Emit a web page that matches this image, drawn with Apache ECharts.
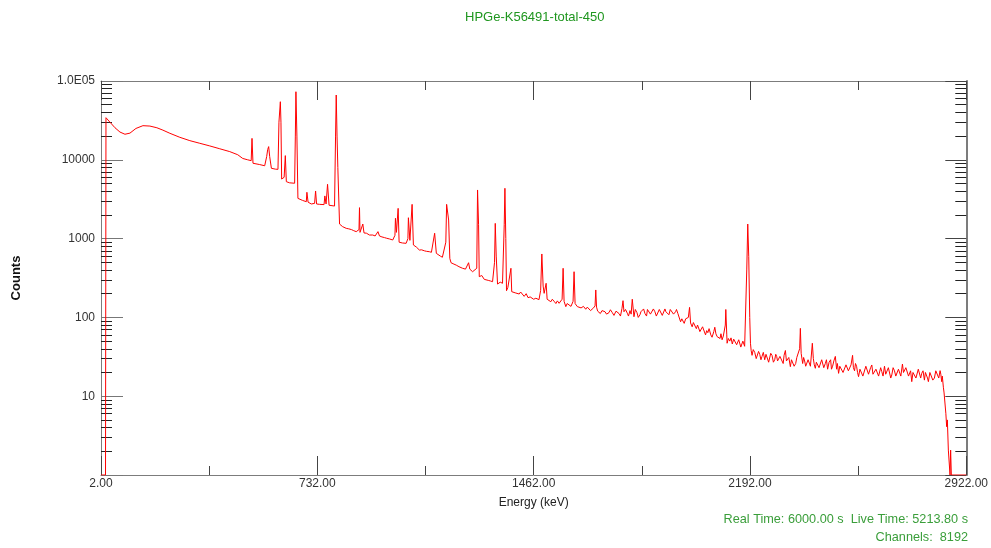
<!DOCTYPE html>
<html>
<head>
<meta charset="utf-8">
<title>HPGe-K56491-total-450</title>
<script src="https://cdn.jsdelivr.net/npm/echarts@6/dist/echarts.min.js"></script>
<style>
html, body { margin: 0; padding: 0; background: #ffffff; }
#spectrum { width: 991px; height: 548px; }
</style>
</head>
<body>
<div id="spectrum"></div>
<script>
// spectrum as [energy keV, counts], split in three ranges
const spectrumLow = [
  [2, 1], [17.2, 1], [18.8, 34200], [32.3, 30000], [49.2, 25500], [66, 22500], [82.8, 21100], [99.7, 21800], [119.9, 25000], [143.5, 27100],
  [167, 26800], [190.6, 25500], [210.8, 23800], [234.4, 21700], [268, 19300], [301.8, 17500], [335.4, 16200], [369.1, 15000], [402.8, 13800], [436.5, 12700],
  [463.4, 11600], [480.3, 10400], [497, 10000], [508.8, 9750], [511.6, 18700], [514.9, 9040], [537.5, 8700], [554.4, 8400], [561.1, 11000], [564.5, 13500],
  [567.8, 14700], [571.2, 11000], [577, 7800], [591.4, 7600], [599.2, 7570], [602.5, 30000], [607.2, 54600], [609.3, 30000], [611.6, 5700], [620, 6000],
  [624, 11300], [627.4, 5280], [638.6, 5100], [655.4, 5040], [657.8, 20000], [659.8, 73100], [663.1, 20000], [666.5, 3240], [682.3, 3050], [694.8, 2940],
  [696.8, 3870], [700.8, 2900], [711.6, 2750], [722.8, 2800], [726.1, 4020], [729.5, 2750], [739.6, 2720], [754.7, 2700], [757.4, 3480], [761.5, 2750],
  [766.5, 4890], [771.6, 2650], [790.1, 2590], [793.5, 20000], [795.8, 66400], [798.5, 20000]
]
const spectrumMid = [
  [801.2, 8020], [804.6, 3000], [807, 1530], [812, 1450], [817.1, 1420], [823, 1380], [829.5, 1350], [838, 1330], [847.4, 1300], [855, 1260],
  [863.2, 1225], [872.6, 1300], [874.3, 2470], [876, 1200], [880, 1190], [885.5, 1530], [889.5, 1180], [897.9, 1170], [903, 1140], [908, 1110],
  [914, 1150], [919.1, 1110], [927, 1080], [936.6, 1225], [941.7, 1080], [950, 1050], [958.5, 1030], [966, 1010], [975.4, 990], [986.5, 960],
  [993.9, 1100], [995.6, 1810], [999, 1200], [1004.7, 2420], [1008, 900], [1013, 905], [1019.1, 880], [1025, 860], [1031.6, 871], [1037.7, 1000],
  [1039.3, 1840], [1044.4, 950], [1051.8, 2720], [1056.2, 830], [1061, 800], [1066.3, 780], [1071, 760], [1076.4, 716], [1084, 720], [1093.2, 700],
  [1100, 690], [1110.1, 682], [1117, 670], [1123.5, 700], [1127.9, 1170], [1133.6, 650], [1140, 625], [1147.1, 600], [1154, 580], [1160.6, 562],
  [1165.6, 900], [1168.3, 2720], [1175.1, 1720], [1179.1, 560], [1183.2, 494], [1190, 480], [1201, 460], [1210, 440], [1222.2, 420], [1232, 410],
  [1242.4, 494], [1246.5, 410], [1250, 395], [1255.9, 380], [1262, 370], [1270, 420], [1272.7, 4140], [1276.1, 1500], [1278.5, 329], [1286.9, 340],
  [1295.3, 304], [1302, 310], [1308.8, 295], [1316, 290], [1323.3, 284], [1330, 500], [1332.4, 1560], [1335.7, 600], [1340.1, 265], [1349.2, 280],
  [1356.9, 271], [1362.7, 1500], [1365, 4350], [1368, 1000], [1370.4, 218], [1375, 240], [1379.5, 230], [1385.3, 420], [1388, 212], [1394, 222],
  [1399.7, 205], [1406, 215], [1413.2, 198], [1418, 210], [1424.3, 202], [1430, 185], [1436.8, 200], [1443, 178], [1450.2, 182], [1456, 192],
  [1462, 170], [1469.4, 175], [1476, 185], [1480, 168], [1485.6, 220], [1489.6, 638], [1494, 250], [1497.4, 202], [1504.1, 271], [1507.5, 170],
  [1511, 176], [1514.2, 166], [1520, 158], [1525, 170], [1531.1, 160], [1537, 150], [1542, 162], [1547.9, 151], [1553, 158], [1558, 170],
  [1561.4, 420], [1564.7, 160], [1570.5, 137], [1575, 150], [1581.6, 145], [1588, 138], [1595, 160], [1598.4, 380], [1601.8, 150], [1609.5, 137],
  [1615, 142], [1622, 132], [1630, 138], [1637.8, 127], [1643, 135], [1649, 132], [1654, 122], [1659.1, 125], [1664, 132], [1669.2, 140],
  [1671.6, 223], [1674.2, 135], [1678, 120], [1682.6, 127]
]
const spectrumHigh = [
  [1687, 112], [1692.7, 122], [1697, 128], [1702.8, 118], [1708, 110], [1716.3, 115], [1721, 125], [1727.4, 115], [1733, 106], [1739.9, 120],
  [1745, 126], [1750, 112], [1755, 104], [1760.1, 130], [1763.5, 163], [1766.8, 118], [1772, 126], [1778, 113], [1782, 104], [1787.1, 122],
  [1791, 110], [1794.8, 170], [1800.5, 102], [1805, 126], [1810.6, 115], [1815, 100], [1820.7, 108], [1824, 118], [1828.5, 124], [1833, 128],
  [1837.6, 112], [1843, 104], [1846, 126], [1851, 120], [1856, 110], [1862.2, 107], [1866, 128], [1871.2, 118], [1876, 104], [1881.3, 110],
  [1886, 126], [1891.5, 121], [1896, 106], [1901.6, 112], [1905, 128], [1908.3, 118], [1913, 112], [1918.4, 108], [1923, 126], [1928.5, 120],
  [1934, 110], [1940.9, 118], [1944, 126], [1948.7, 112], [1953, 118], [1957.8, 88], [1962, 96], [1965.5, 95], [1970, 84], [1975, 96],
  [1979, 92], [1984, 100], [1988.1, 134], [1991.5, 85], [1996.9, 76], [2001, 86], [2006, 82], [2011, 72], [2015, 80], [2019.4, 76],
  [2023, 66], [2027.9, 68], [2032, 76], [2036.3, 72], [2042, 60], [2046, 68], [2049.7, 64], [2054, 72], [2059.8, 60], [2064, 56],
  [2069.9, 66], [2073.3, 75], [2077, 62], [2081.1, 57], [2086.8, 60], [2091, 54], [2094, 62], [2097.9, 52], [2102, 58], [2105.3, 55],
  [2108.7, 80], [2110.4, 126], [2113.7, 60], [2114.8, 47], [2119, 54], [2123.8, 50], [2128, 55], [2132.3, 46], [2137, 53], [2143.1, 52],
  [2147, 45], [2150.8, 44], [2154, 52], [2157.5, 50], [2161, 42], [2165.3, 41], [2168, 50], [2171, 48], [2174, 43], [2177.7, 44],
  [2181.1, 400], [2184.5, 1530], [2187.8, 589], [2191.2, 100], [2193.6, 47], [2196, 38], [2199, 33], [2203, 39], [2208, 36], [2213, 30],
  [2218.1, 31], [2221, 37], [2224.9, 34], [2229, 29], [2232.6, 32], [2237, 36], [2241.7, 29], [2246, 34], [2251.8, 33], [2255, 27],
  [2258.6, 28], [2262, 35], [2266.3, 33], [2271, 27], [2275.4, 29], [2279, 34], [2282.1, 32], [2285, 28], [2288.8, 26.6], [2293, 32],
  [2299, 31], [2304, 26], [2307, 33], [2311.5, 38], [2315, 28], [2319.2, 27], [2323, 31], [2328.3, 23.7], [2332, 29], [2336, 28],
  [2341, 24], [2346.2, 26], [2350, 31], [2356.3, 30], [2359.6, 40], [2362, 72.6], [2364.7, 35], [2369.8, 26], [2373, 31], [2376.4, 28],
  [2380, 24], [2383.2, 24], [2388, 29], [2393.3, 30], [2396, 24], [2400, 25], [2402.4, 47], [2405.8, 30], [2409, 25], [2412.5, 22.6],
  [2416, 27], [2420.3, 28], [2425, 23], [2430.4, 24], [2434, 29], [2437.2, 30], [2441, 23], [2446.2, 26], [2450, 29], [2454, 22],
  [2459, 27], [2464.1, 29], [2467, 22], [2470.8, 24], [2475, 28], [2480, 32], [2484.3, 22], [2487, 26], [2491, 19.5], [2495, 24],
  [2501.1, 25], [2506, 20], [2511.2, 21], [2516, 25], [2521.3, 26], [2524, 21], [2528.1, 20], [2533, 25], [2538.2, 33], [2541, 23],
  [2544.9, 21], [2548, 26], [2551.7, 24], [2555, 20], [2558.4, 17.7], [2563, 22], [2568.6, 23], [2573, 18], [2578.7, 19], [2583, 24],
  [2588.8, 25], [2592, 19], [2595.4, 20], [2599, 23], [2603.1, 24.9], [2607, 19], [2612.2, 18], [2617, 22], [2622.3, 23], [2626, 18],
  [2629, 19], [2633, 23], [2636.8, 20.5], [2641, 18], [2645.9, 24], [2650, 19], [2656, 18], [2659, 23], [2662.7, 22], [2667, 17],
  [2670.5, 18.6], [2675, 23], [2679.6, 21], [2684, 18], [2689.7, 17], [2693, 22], [2696.4, 22], [2701, 18], [2706.5, 25.6], [2710, 20],
  [2713.3, 19], [2718, 23], [2723.4, 22], [2727, 18], [2730.1, 17], [2734, 21], [2737.9, 15.3], [2742, 20], [2747, 20], [2752, 17],
  [2757.1, 17], [2760, 22], [2763.8, 21], [2768, 17], [2771.5, 19.5], [2776, 21], [2780.6, 16], [2784, 20], [2787.3, 21], [2791, 17],
  [2794, 15.3], [2799, 20], [2804.2, 20], [2809, 16], [2814.3, 17], [2819, 21], [2824.4, 21], [2829, 17], [2833.5, 21.1], [2836, 19],
  [2838.9, 15.3], [2841, 18], [2844.6, 13], [2847, 11], [2850.3, 10.4], [2853, 6], [2855.7, 4.1], [2858, 5], [2861.4, 2.07], [2867.1, 1],
  [2869.1, 2.07], [2871.5, 1], [2922, 1]
]

const energyMajorTicks = [2, 732, 1462, 2192, 2922]
const energyMinorTicks = [367, 1097, 1827, 2557]
const countDecades = [1, 10, 100, 1000, 10000, 100000]
const decadeSteps = [2, 3, 4, 5, 6, 7, 8, 9]

let countMinorTicks = []
for (let d of countDecades.slice(0, -1)) {
  for (let s of decadeSteps) countMinorTicks.push(s * d)
}

const FONT = 'Liberation Sans, Arial, sans-serif'
const AXIS_GREY = '#7c7c7c'

function xAxisOf (position, ticks, len, withLabels) {
  return {
    type: 'value',
    position: position,
    min: 2,
    max: 2922,
    name: withLabels ? 'Energy (keV)' : '',
    nameLocation: 'middle',
    nameGap: 22,
    nameTextStyle: { color: '#222', fontSize: 12, fontFamily: FONT },
    axisLine: { show: withLabels || len > 10, onZero: false, lineStyle: { color: AXIS_GREY, width: 1 } },
    axisTick: { show: true, inside: true, length: len, customValues: ticks, lineStyle: { color: '#444' } },
    axisLabel: {
      show: withLabels,
      customValues: energyMajorTicks,
      formatter: function (v) { return v.toFixed(2) },
      margin: 3,
      color: '#333',
      fontSize: 12,
      fontFamily: FONT
    },
    splitLine: { show: false }
  }
}

function yAxisOf (position, ticks, len, withLabels, tickColor) {
  return {
    type: 'log',
    logBase: 10,
    position: position,
    min: 1,
    max: 100000,
    name: withLabels ? 'Counts' : '',
    nameLocation: 'middle',
    nameGap: 78,
    nameTextStyle: { color: '#111', fontSize: 13, fontWeight: 'bold', fontFamily: FONT },
    axisLine: { show: len > 15, onZero: false, lineStyle: { color: AXIS_GREY, width: position === 'right' ? 2 : 1 } },
    axisTick: { show: true, inside: true, length: len, customValues: ticks, lineStyle: { color: tickColor } },
    axisLabel: {
      show: withLabels,
      customValues: countDecades.slice(1),
      formatter: function (v) { return v >= 100000 ? '1.0E05' : String(Math.round(v)) },
      margin: 6,
      color: '#333',
      fontSize: 12,
      fontFamily: FONT
    },
    splitLine: { show: false }
  }
}

let spectrum = spectrumLow.concat(spectrumMid, spectrumHigh)

let chart = echarts.init(document.getElementById('spectrum'))
chart.setOption({
  animation: false,
  backgroundColor: '#ffffff',
  title: {
    text: 'HPGe-K56491-total-450',
    left: 460,
    top: 6,
    textStyle: { color: '#1f961f', fontSize: 13, fontWeight: 'normal', fontFamily: FONT }
  },
  grid: { left: 101, right: 23, top: 81, bottom: 73 },
  xAxis: [
    xAxisOf('bottom', energyMajorTicks, 19, true),
    xAxisOf('bottom', energyMinorTicks, 9, false),
    xAxisOf('top', energyMajorTicks, 19, false),
    xAxisOf('top', energyMinorTicks, 9, false)
  ],
  yAxis: [
    yAxisOf('left', countDecades, 22, true, '#777'),
    yAxisOf('left', countMinorTicks, 11, false, '#222'),
    yAxisOf('right', countDecades, 21, false, '#444'),
    yAxisOf('right', countMinorTicks, 11, false, '#222')
  ],
  series: [{
    name: 'Counts',
    type: 'line',
    xAxisIndex: 0,
    yAxisIndex: 0,
    data: spectrum,
    symbol: 'none',
    showSymbol: false,
    clip: true,
    lineStyle: { color: '#ff0000', width: 1 }
  }],
  graphic: [
    {
      type: 'text',
      right: 23,
      top: 513,
      style: { text: 'Real Time: 6000.00 s  Live Time: 5213.80 s', fill: '#3a9e3a', font: '12.7px ' + FONT }
    },
    {
      type: 'text',
      right: 23,
      top: 531,
      style: { text: 'Channels:  8192', fill: '#3a9e3a', font: '12.7px ' + FONT }
    }
  ]
})
</script>
</body>
</html>
